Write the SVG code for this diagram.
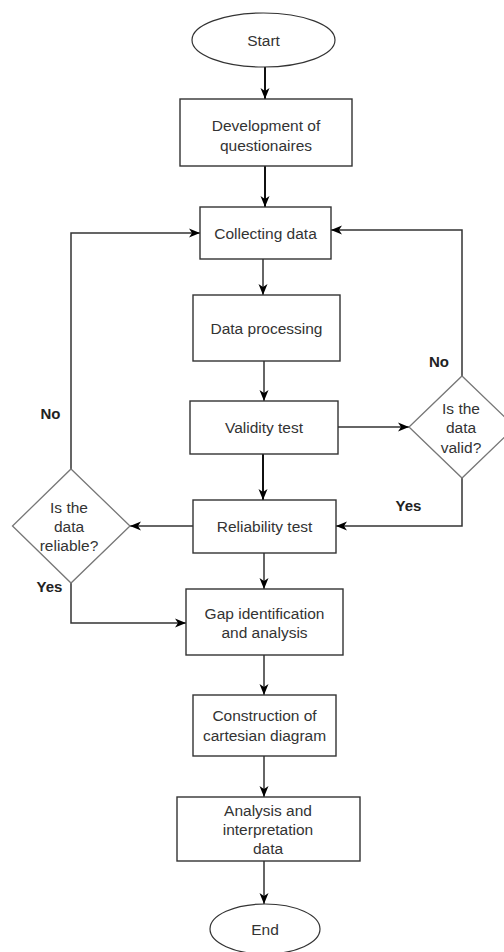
<svg xmlns="http://www.w3.org/2000/svg" width="504" height="952" viewBox="0 0 504 952">
<style>
  .box{fill:#fff;stroke:#333;stroke-width:1.4}
  .term{fill:#fff;stroke:#333;stroke-width:1.2}
  .dec{fill:#fff;stroke:#777;stroke-width:1.3}
  .t{font-family:"Liberation Sans",Arial,sans-serif;font-size:15.5px;fill:#333;text-anchor:middle;dominant-baseline:central}
  .lbl{font-family:"Liberation Sans",Arial,sans-serif;font-size:15px;font-weight:bold;fill:#222;text-anchor:middle;dominant-baseline:central}
  .c{fill:none;stroke:#333;stroke-width:1.5;marker-end:url(#ah)}
  .ct{fill:none;stroke:#111;stroke-width:2;marker-end:url(#ah)}
</style>
<defs>
  <marker id="ah" markerUnits="userSpaceOnUse" markerWidth="12" markerHeight="12" viewBox="0 0 12 12" refX="11" refY="6" orient="auto">
    <path d="M0,1.5 L11,6 L0,10.5 L3,6 Z" fill="#000"/>
  </marker>
</defs>
<rect width="504" height="952" fill="#fff"/>
<g id="connectors">
  <path class="ct" d="M265,67 L265,99"/>
  <path class="ct" d="M265,166 L265,207"/>
  <path class="c" d="M263,259 L263,295"/>
  <path class="c" d="M264,361 L264,401"/>
  <path class="c" d="M338,427 L409,427"/>
  <path class="c" d="M462,376 L462,230 L331,230"/>
  <path class="c" d="M462,478 L462,526 L336,526"/>
  <path class="ct" d="M263,454 L263,500"/>
  <path class="c" d="M193,526 L130,526"/>
  <path class="c" d="M71,469 L71,233 L200,233"/>
  <path class="c" d="M71,583 L71,623 L186,623"/>
  <path class="c" d="M264,553 L264,589"/>
  <path class="c" d="M264,655 L264,695"/>
  <path class="c" d="M264,756 L264,797"/>
  <path class="c" d="M264,861 L264,904"/>
</g>
<g id="start">
  <ellipse class="term" cx="263.5" cy="40" rx="71.5" ry="27"/>
  <text class="t" x="263.5" y="40">Start</text>
</g>
<g id="development">
  <rect class="box" x="180" y="99" width="172" height="67"/>
  <text class="t" x="266" y="125">Development of</text>
  <text class="t" x="266" y="145">questionaires</text>
</g>
<g id="collecting">
  <rect class="box" x="200" y="207" width="131" height="52"/>
  <text class="t" x="265.5" y="233">Collecting data</text>
</g>
<g id="processing">
  <rect class="box" x="193" y="295" width="147" height="66"/>
  <text class="t" x="266.5" y="328">Data processing</text>
</g>
<g id="validity">
  <rect class="box" x="190" y="401" width="148" height="53"/>
  <text class="t" x="264" y="427.5">Validity test</text>
</g>
<g id="valid-decision">
  <polygon class="dec" points="462,376 515,427 462,478 409,427"/>
  <text class="t" x="461" y="408">Is the</text>
  <text class="t" x="461" y="427">data</text>
  <text class="t" x="461" y="447">valid?</text>
</g>
<g id="reliability">
  <rect class="box" x="193" y="500" width="143" height="53"/>
  <text class="t" x="264.5" y="526.5">Reliability test</text>
</g>
<g id="reliable-decision">
  <polygon class="dec" points="71,469 130,526 71,583 12.5,526"/>
  <text class="t" x="69" y="507">Is the</text>
  <text class="t" x="69" y="526">data</text>
  <text class="t" x="69" y="545">reliable?</text>
</g>
<g id="gap">
  <rect class="box" x="186" y="589" width="157" height="66"/>
  <text class="t" x="264.5" y="613">Gap identification</text>
  <text class="t" x="264.5" y="632">and analysis</text>
</g>
<g id="construction">
  <rect class="box" x="193" y="695" width="143" height="61"/>
  <text class="t" x="264.5" y="715">Construction of</text>
  <text class="t" x="264.5" y="735">cartesian diagram</text>
</g>
<g id="analysis">
  <rect class="box" x="177" y="797" width="183" height="64"/>
  <text class="t" x="268" y="810">Analysis and</text>
  <text class="t" x="268" y="829">interpretation</text>
  <text class="t" x="268" y="848">data</text>
</g>
<g id="end">
  <ellipse class="term" cx="265" cy="929" rx="55" ry="25"/>
  <text class="t" x="265" y="929">End</text>
</g>
<g id="labels">
  <text class="lbl" x="439" y="361">No</text>
  <text class="lbl" x="408.5" y="505">Yes</text>
  <text class="lbl" x="50.5" y="413">No</text>
  <text class="lbl" x="49.5" y="586.5">Yes</text>
</g>
</svg>
